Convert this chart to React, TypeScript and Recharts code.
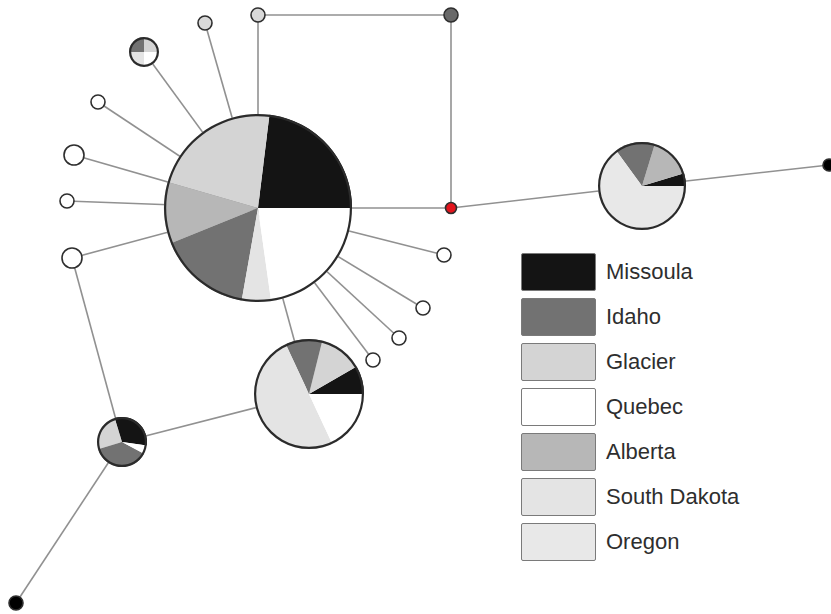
import { ScatterChart, Scatter, XAxis, YAxis, PieChart, Pie, Cell } from "recharts";

const W = 831;
const H = 614;

const regions = ["Missoula", "Idaho", "Glacier", "Quebec", "Alberta", "South Dakota", "Oregon"];
const regionColors = ["#141414", "#727272", "#d4d4d4", "#ffffff", "#b7b7b7", "#e4e4e4", "#e8e8e8"];

// haplotype nodes (network layout coords) - small ones without pies
const smallNodes = [
    { id: "t1", x: 205, y: 23, r: 7, fill: "#d9d9d9" },
    { id: "t2", x: 258, y: 15, r: 7, fill: "#d9d9d9" },
    { id: "t3", x: 451, y: 15, r: 7, fill: "#686868" },
    { id: "red", x: 451, y: 208, r: 5.5, fill: "#e3141c" },
    { id: "w1", x: 98, y: 102, r: 7, fill: "#ffffff" },
    { id: "w2", x: 74, y: 155, r: 10, fill: "#ffffff" },
    { id: "w3", x: 67, y: 201, r: 7, fill: "#ffffff" },
    { id: "w4", x: 72, y: 258, r: 10, fill: "#ffffff" },
    { id: "w5", x: 444, y: 255, r: 7, fill: "#ffffff" },
    { id: "w6", x: 423, y: 308, r: 7, fill: "#ffffff" },
    { id: "w7", x: 399, y: 338, r: 7, fill: "#ffffff" },
    { id: "w8", x: 373, y: 360, r: 7, fill: "#ffffff" },
    { id: "bR", x: 829, y: 165, r: 6, fill: "#000000" },
    { id: "bL", x: 16, y: 603, r: 7, fill: "#000000" },
];

// pie nodes: position, radius, start angle
const pieNodes = [
    { id: "main", x: 258, y: 208, r: 94, start: 0 },
    { id: "east", x: 642, y: 186, r: 44, start: 0 },
    { id: "south", x: 309, y: 394, r: 55, start: 0 },
    { id: "sw", x: 122, y: 442, r: 25, start: -8 },
    { id: "tiny", x: 144, y: 52, r: 15, start: 0 },
];

// slice counts per pie (region, value)
const mainSlices = [
    { name: "Missoula", value: 83 },
    { name: "Glacier", value: 81 },
    { name: "Alberta", value: 38 },
    { name: "Idaho", value: 58 },
    { name: "South Dakota", value: 18 },
    { name: "Quebec", value: 82 },
];
const eastSlices = [
    { name: "Missoula", value: 17 },
    { name: "Alberta", value: 56 },
    { name: "Idaho", value: 53 },
    { name: "Oregon", value: 234 },
];
const southSlices = [
    { name: "Missoula", value: 30 },
    { name: "Glacier", value: 46 },
    { name: "Idaho", value: 39 },
    { name: "South Dakota", value: 180 },
    { name: "Quebec", value: 65 },
];
const swSlices = [
    { name: "Missoula", value: 115 },
    { name: "Glacier", value: 90 },
    { name: "Idaho", value: 135 },
    { name: "Quebec", value: 20 },
];
const tinySlices = [
    { name: "Glacier", value: 90 },
    { name: "Idaho", value: 90 },
    { name: "South Dakota", value: 90 },
    { name: "Quebec", value: 90 },
];

const slicesById = { main: mainSlices, east: eastSlices, south: southSlices, sw: swSlices, tiny: tinySlices };

const edges = [
    ["main", "w1"], ["main", "w2"], ["main", "w3"], ["main", "w4"],
    ["main", "t1"], ["main", "tiny"], ["main", "t2"],
    ["main", "w5"], ["main", "w6"], ["main", "w7"], ["main", "w8"],
    ["main", "red"], ["main", "south"],
    ["t2", "t3"], ["t3", "red"], ["red", "east"], ["east", "bR"],
    ["w4", "sw"], ["sw", "south"], ["sw", "bL"],
];

const allNodes = [...smallNodes, ...pieNodes];
const nodeOf = (id) => allNodes.find((n) => n.id === id);
const colorOf = (name) => regionColors[regions.indexOf(name)];

export default function App() {
    return (
        <div style={{ position: "absolute", left: 0, top: 0, width: W, height: H, background: "#fff", overflow: "hidden" }}>
            <div style={{ position: "absolute", left: 0, top: 0 }}>
                <ScatterChart width={W} height={H} margin={{ top: 0, right: 0, bottom: 0, left: 0 }}>
                    <XAxis type="number" dataKey="x" domain={[0, W]} hide />
                    <YAxis type="number" dataKey="y" domain={[0, H]} reversed hide />
                    {edges.map(([a, b]) => (
                        <Scatter
                            key={a + "-" + b}
                            data={[nodeOf(a), nodeOf(b)]}
                            line={{ stroke: "#919191", strokeWidth: 1.6 }}
                            shape={() => <g />}
                            isAnimationActive={false}
                        />
                    ))}
                    <Scatter
                        data={smallNodes}
                        isAnimationActive={false}
                        shape={(p) => (
                            <circle
                                cx={p.cx}
                                cy={p.cy}
                                r={p.payload.r}
                                fill={p.payload.fill}
                                stroke="#2e2e2e"
                                strokeWidth={1.6}
                            />
                        )}
                    />
                </ScatterChart>
            </div>
            <div style={{ position: "absolute", left: 0, top: 0 }}>
                <PieChart width={W} height={H} margin={{ top: 0, right: 0, bottom: 0, left: 0 }}>
                    {pieNodes.map((n) => (
                        <Pie
                            key={n.id}
                            data={slicesById[n.id]}
                            dataKey="value"
                            nameKey="name"
                            cx={n.x}
                            cy={n.y}
                            outerRadius={n.r}
                            startAngle={n.start}
                            endAngle={n.start + 360}
                            stroke="none"
                            label={false}
                            labelLine={false}
                            isAnimationActive={false}
                        >
                            {slicesById[n.id].map((s, i) => (
                                <Cell key={i} fill={colorOf(s.name)} />
                            ))}
                        </Pie>
                    ))}
                    {pieNodes.map((n) => (
                        <Pie
                            key={n.id + "-ring"}
                            data={[{ name: "ring", value: 1 }]}
                            dataKey="value"
                            cx={n.x}
                            cy={n.y}
                            innerRadius={n.r - 2.2}
                            outerRadius={n.r}
                            startAngle={0}
                            endAngle={360}
                            stroke="none"
                            fill="#2b2b2b"
                            isAnimationActive={false}
                        />
                    ))}
                </PieChart>
            </div>
            <Legend />
        </div>
    );
}

function Legend() {
    return (
        <div style={{ position: "absolute", left: 521, top: 252 }}>
            {regions.map((name, i) => (
                <div key={name} style={{ display: "flex", alignItems: "center", height: 45 }}>
                    <div
                        style={{
                            width: 75,
                            height: 38,
                            background: regionColors[i],
                            border: "1.5px solid #7a7a7a",
                            borderRadius: 2,
                            boxSizing: "border-box",
                            marginBottom: 6,
                        }}
                    />
                    <span
                        style={{
                            marginLeft: 10,
                            marginBottom: 5,
                            fontFamily: "'Liberation Sans', Arial, sans-serif",
                            fontSize: 22,
                            color: "#2e2e2e",
                        }}
                    >
                        {name}
                    </span>
                </div>
            ))}
        </div>
    );
}
